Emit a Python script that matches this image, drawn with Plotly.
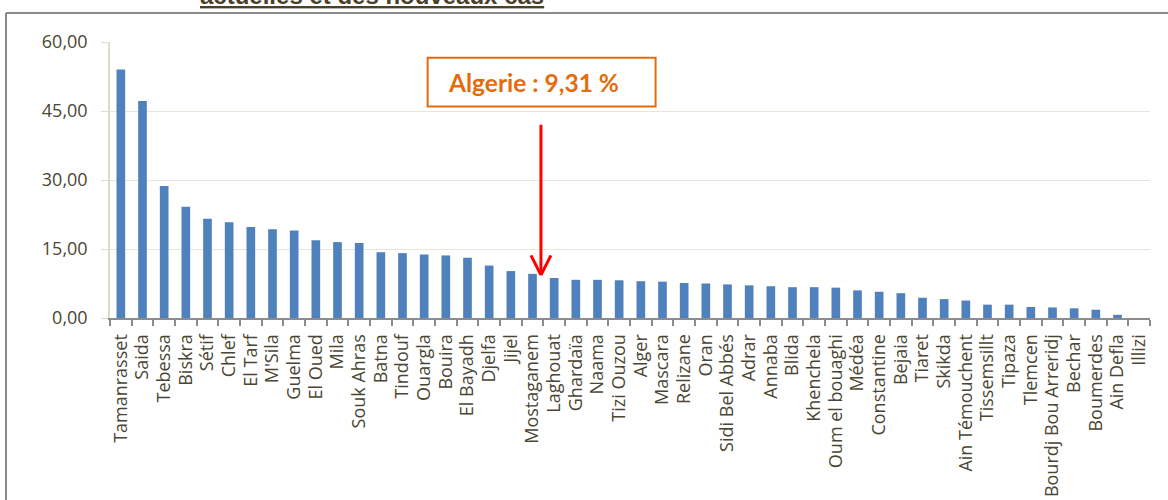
import plotly.graph_objects as go

wilayas = ["Tamanrasset", "Saida", "Tebessa", "Biskra", "Sétif", "Chlef", "El Tarf", "M'Sila",
           "Guelma", "El Oued", "Mila", "Souk Ahras", "Batna", "Tindouf", "Ouargla", "Bouira",
           "El Bayadh", "Djelfa", "Jijel", "Mostaganem", "Laghouat", "Ghardaïa", "Naama", "Tizi Ouzou",
           "Alger", "Mascara", "Relizane", "Oran", "Sidi Bel Abbés", "Adrar", "Annaba", "Blida",
           "Khenchela", "Oum el bouaghi", "Médéa", "Constantine", "Bejaia", "Tiaret", "Skikda",
           "Ain Témouchent", "Tissemsillt", "Tipaza", "Tlemcen", "Bourdj Bou Arreridj", "Bechar",
           "Boumerdes", "Ain Defla", "Illizi"]
rates = [54.0, 47.2, 28.7, 24.2, 21.6, 20.8, 19.8, 19.3,
         19.0, 16.9, 16.5, 16.3, 14.3, 14.1, 13.8, 13.6,
         13.1, 11.4, 10.2, 9.6, 8.7, 8.3, 8.3, 8.2,
         8.0, 7.9, 7.6, 7.5, 7.3, 7.1, 6.9, 6.7,
         6.7, 6.6, 6.0, 5.7, 5.4, 4.4, 4.1,
         3.8, 2.9, 2.9, 2.4, 2.3, 2.1,
         1.8, 0.7, 0.0]
y_ticks = [0, 15, 30, 45, 60]
y_tick_labels = ["0,00", "15,00", "30,00", "45,00", "60,00"]
algeria_label = "Algerie : 9,31 %"
algeria_rate = 9.31
title_text = "actuelles et des nouveaux cas"

label_color = "#4a4633"
orange = "#E46C0A"

fig = go.Figure(go.Bar(x=wilayas, y=rates, marker=dict(color="#4F81BD", line=dict(width=0))))

L, R, T, B = 110, 18, 42, 182
W, H = 1168, 500
pw, ph = W - L - R, H - T - B

def px_x(p):
    return (p - L) / pw

def px_y(p):
    return (H - B - p) / ph

arrow_x = 19.39
shapes = [
    # outer frame
    dict(type="line", xref="paper", yref="paper", x0=px_x(6), x1=px_x(1170), y0=px_y(13), y1=px_y(13),
         line=dict(color="#8a8a8a", width=2)),
    dict(type="line", xref="paper", yref="paper", x0=px_x(6), x1=px_x(6), y0=px_y(13), y1=px_y(502),
         line=dict(color="#8a8a8a", width=2)),
    # callout box
    dict(type="rect", xref="x", yref="y", x0=14.16, x1=24.68, y0=46.0, y1=56.6,
         line=dict(color=orange, width=2), fillcolor="white"),
    # red arrow
    dict(type="line", xref="x", yref="y", x0=arrow_x, x1=arrow_x, y0=42, y1=algeria_rate + 0.3,
         line=dict(color="#FF0000", width=3)),
    dict(type="line", xref="x", yref="y", x0=arrow_x - 0.46, x1=arrow_x, y0=algeria_rate + 4.3, y1=algeria_rate,
         line=dict(color="#FF0000", width=3)),
    dict(type="line", xref="x", yref="y", x0=arrow_x + 0.46, x1=arrow_x, y0=algeria_rate + 4.3, y1=algeria_rate,
         line=dict(color="#FF0000", width=3)),
]

annotations = [
    dict(xref="x", yref="y", x=15.02, y=51.2, xanchor="left", yanchor="middle", showarrow=False,
         text="<b>" + algeria_label + "</b>", font=dict(family="Lato", size=24.5, color=orange)),
    dict(xref="paper", yref="paper", x=px_x(198), y=px_y(10.5), xanchor="left", yanchor="bottom", showarrow=False,
         text="<b><u>" + title_text + "</u></b>", font=dict(family="Liberation Sans", size=24, color="#4a4128")),
]

fig.update_layout(
    width=W, height=H,
    margin=dict(l=L, r=R, t=T, b=B, pad=0, autoexpand=False),
    paper_bgcolor="white", plot_bgcolor="white",
    bargap=0.6, showlegend=False,
    shapes=shapes, annotations=annotations,
    font=dict(family="Open Sans", color=label_color),
)
fig.update_xaxes(
    type="category", tickmode="array", tickvals=wilayas, ticktext=wilayas,
    tickangle=-90, tickfont=dict(family="Open Sans", size=18, color=label_color),
    showline=True, linecolor="#8c8c8c", linewidth=2,
    ticks="outside", tickson="boundaries", ticklen=6, tickcolor="#8c8c8c", tickwidth=1.5,
    showgrid=False, ticklabelstandoff=7, automargin=False,
)
fig.update_yaxes(
    range=[0, 60], tickvals=y_ticks, ticktext=y_tick_labels,
    tickfont=dict(family="Open Sans", size=18, color=label_color),
    showline=True, linecolor="#e0dccb", linewidth=1.5,
    ticks="outside", ticklen=7, tickcolor="#e0dccb",
    showgrid=True, gridcolor="#e8e6dc", gridwidth=1, zeroline=False,
    ticklabelstandoff=10, automargin=False,
)

fig.write_html("out.html", config={"responsive": False, "displayModeBar": False},
               post_script="document.body.style.margin='0';document.body.style.overflow='hidden';")
